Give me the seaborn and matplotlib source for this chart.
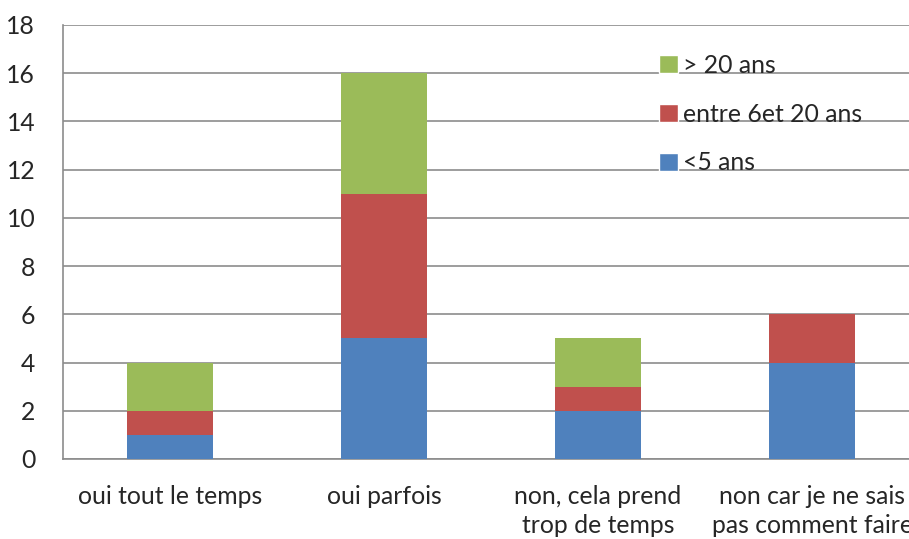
import pandas as pd
import matplotlib
matplotlib.use('Agg')
import matplotlib.pyplot as plt
import seaborn as sns
from matplotlib.patches import Patch

# Données
categories = ['oui tout le temps', 'oui parfois', 'non, cela prend\ntrop de temps',
              'non car je ne sais\npas comment faire']
moins_5 = [1, 5, 2, 4]
entre_6_20 = [1, 6, 1, 2]
plus_20 = [2, 5, 2, 0]
series_labels = ['<5 ans', 'entre 6et 20 ans', '> 20 ans']
couleurs = ['#4F81BD', '#C0504D', '#9BBB59']

df = pd.DataFrame({'cat': categories, 'a': moins_5, 'b': entre_6_20, 'c': plus_20})
df['h1'] = df['a']
df['h2'] = df['a'] + df['b']
df['h3'] = df['a'] + df['b'] + df['c']

sns.set_style('white')
plt.rcParams['font.family'] = ['Lato', 'DejaVu Sans']
taille = 17.8

fig = plt.figure(figsize=(9.09, 5.39), dpi=100)
ax = fig.add_axes([63 / 909, 80 / 539, 856 / 909, 434 / 539])

# barres empilées : on dessine les cumuls du haut vers le bas
for col, c in zip(['h3', 'h2', 'h1'], couleurs[::-1]):
    sns.barplot(data=df, x='cat', y=col, color=c, width=0.4, saturation=1,
                linewidth=0, ax=ax, zorder=3)

ax.set_ylim(0, 18)
ax.set_xlim(-0.5, 3.5)
ax.set_yticks(range(0, 19, 2))
ax.yaxis.grid(True, color='#8c8c8c', linewidth=1.2, zorder=0)
ax.set_axisbelow(True)
ax.set_xlabel('')
ax.set_ylabel('')

for s in ['top', 'right']:
    ax.spines[s].set_visible(False)
for s in ['left', 'bottom']:
    ax.spines[s].set_color('#8c8c8c')
    ax.spines[s].set_linewidth(1.2)

ax.tick_params(axis='y', length=9, width=1.2, color='#8c8c8c', pad=11, labelsize=taille)
ax.tick_params(axis='x', which='major', length=0, pad=19, labelsize=taille)
ax.set_xticks([-0.5, 0.5, 1.5, 2.5], minor=True)
ax.tick_params(axis='x', which='minor', length=8, width=1.2, color='#8c8c8c')
for t in ax.get_xticklabels():
    t.set_linespacing(1.3)
    t.set_verticalalignment('top')

handles = [Patch(facecolor=c) for c in couleurs[::-1]]
ax.legend(handles, series_labels[::-1], loc='upper left', bbox_to_anchor=(0.685, 0.957),
          frameon=False, fontsize=taille, handlelength=0.75, handleheight=0.75,
          handletextpad=0.2, labelspacing=1.05, borderaxespad=0)

plt.savefig('out.png', dpi=100)
plt.close()
